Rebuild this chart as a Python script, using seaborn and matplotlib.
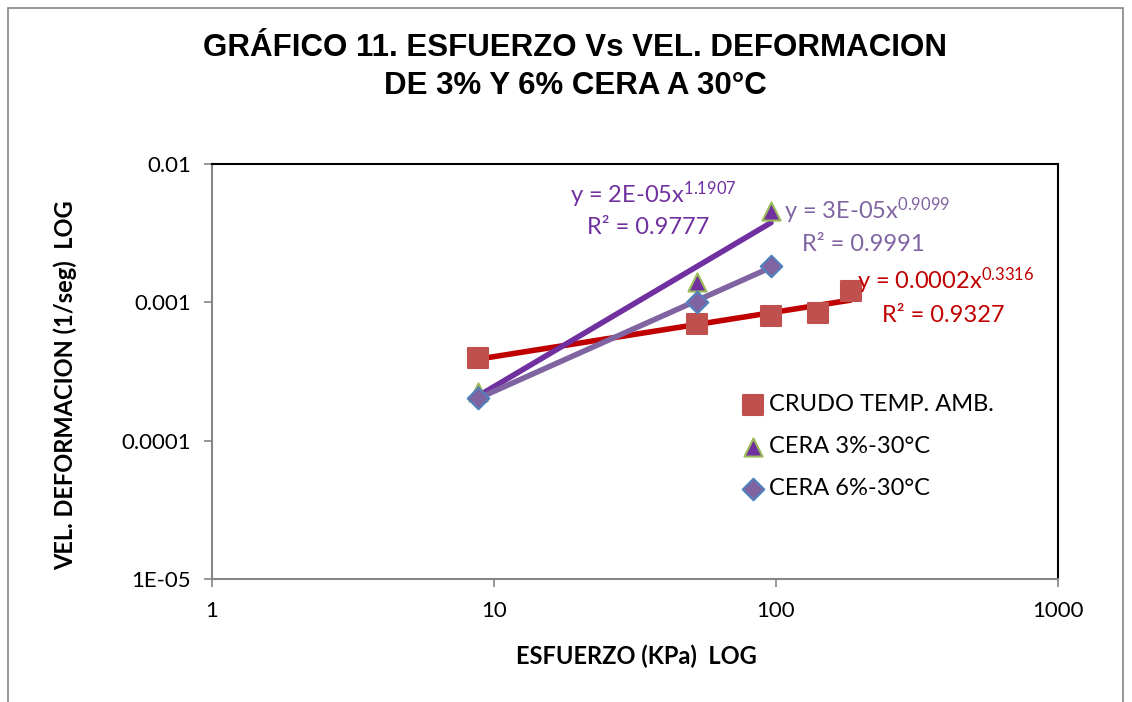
import numpy as np
import pandas as pd
import matplotlib
matplotlib.use("Agg")
import matplotlib.pyplot as plt
import seaborn as sns

# values
crudo_x = [8.8, 52.5, 96, 141, 184]
crudo_y = [0.000396, 0.000698, 0.000798, 0.000837, 0.00121]
cera3_x = [8.8, 52.5, 96]
cera3_y = [0.000225, 0.00140, 0.00458]
cera6_x = [8.8, 52.5, 96]
cera6_y = [0.000204, 0.00100, 0.00183]

series_names = ["CRUDO TEMP. AMB.", "CERA 3%-30°C", "CERA 6%-30°C"]
fit_labels = [("y = 0.0002x$^{0.3316}$", "R² = 0.9327"),
              ("y = 2E-05x$^{1.1907}$", "R² = 0.9777"),
              ("y = 3E-05x$^{0.9099}$", "R² = 0.9991")]
x_ticks = [1, 10, 100, 1000]
y_ticks = [1e-5, 1e-4, 1e-3, 1e-2]
y_tick_labels = ["1E-05", "0.0001", "0.001", "0.01"]

sns.set_style("white")
plt.rcParams["font.family"] = ["Lato", "DejaVu Sans"]
plt.rcParams["mathtext.default"] = "regular"
plt.rcParams["text.color"] = "black"
plt.rcParams["axes.labelcolor"] = "black"
plt.rcParams["xtick.labelcolor"] = "black"
plt.rcParams["ytick.labelcolor"] = "black"

W, H = 1132, 702
fig = plt.figure(figsize=(W / 100, H / 100), dpi=100)
ax = fig.add_axes([212 / W, 1 - 579 / H, (1058 - 212) / W, (579 - 164) / H])

df = pd.concat([
    pd.DataFrame({"x": crudo_x, "y": crudo_y, "serie": series_names[0]}),
    pd.DataFrame({"x": cera3_x, "y": cera3_y, "serie": series_names[1]}),
    pd.DataFrame({"x": cera6_x, "y": cera6_y, "serie": series_names[2]}),
])

marker_fill = ["#C0504D", "#7030A0", "#8064A2"]
marker_edge = ["#C0504D", "#9BBB59", "#4F81BD"]
markers = ["s", "^", "D"]
sizes = [210, 170, 120]
line_colors = ["#C00000", "#7030A0", "#8064A2"]

# power trend lines, drawn first so markers sit on top
for name, col in zip(series_names, line_colors):
    d = df[df["serie"] == name]
    b, a = np.polyfit(np.log(d["x"]), np.log(d["y"]), 1)
    xs = np.linspace(d["x"].min(), d["x"].max(), 50)
    ax.plot(xs, np.exp(a) * xs ** b, color=col, lw=4, zorder=2, solid_capstyle="round")

for i, name in enumerate(series_names):
    d = df[df["serie"] == name]
    sns.scatterplot(data=d, x="x", y="y", ax=ax, marker=markers[i], s=sizes[i],
                    color=marker_fill[i], edgecolor=marker_edge[i], linewidth=1.5,
                    label=name, zorder=3)

ax.set_xscale("log")
ax.set_yscale("log")
ax.set_xlim(1, 1000)
ax.set_ylim(1e-5, 1e-2)
ax.set_xticks(x_ticks)
ax.set_xticklabels([str(t) for t in x_ticks])
ax.set_yticks(y_ticks)
ax.set_yticklabels(y_tick_labels)
ax.minorticks_off()
ax.tick_params(axis="both", direction="out", length=6, width=1.2, color="#868686",
               labelsize=16, labelcolor="black", bottom=True, left=True)
ax.tick_params(axis="x", pad=10)
ax.tick_params(axis="y", pad=9)

for s in ["left", "bottom"]:
    ax.spines[s].set_color("#868686")
    ax.spines[s].set_linewidth(1.5)
for s in ["top", "right"]:
    ax.spines[s].set_color("black")
    ax.spines[s].set_linewidth(1.5)

ax.set_xlabel("ESFUERZO (KPa)  LOG", fontsize=17, fontweight="bold", color="black")
ax.set_ylabel("VEL. DEFORMACION (1/seg)  LOG", fontsize=17, fontweight="bold", color="black")
ax.xaxis.set_label_coords(0.5 + (636 - 635) / 846, (579 - 645) / 415)
ax.yaxis.set_label_coords((77 - 212) / 846, (579 - 385) / 415)

leg = ax.legend(loc="upper left", bbox_to_anchor=((738 - 212) / 846, (579 - 394) / 415),
                frameon=False, fontsize=17, handletextpad=0.0, labelspacing=0.9,
                handlelength=1.3, borderaxespad=0, borderpad=0)
for t in leg.get_texts():
    t.set_color("black")

fig.text(575 / W, 1 - 48 / H, "GRÁFICO 11. ESFUERZO Vs VEL. DEFORMACION", ha="center", va="center",
         fontsize=22.5, fontweight="bold", family="Liberation Sans", color="black")
fig.text(575 / W, 1 - 86 / H, "DE 3% Y 6% CERA A 30°C", ha="center", va="center",
         fontsize=22.5, fontweight="bold", family="Liberation Sans", color="black")

# trend equations
fs = 17
fig.text(857 / W, 1 - 281 / H, fit_labels[0][0], color="#C00000", fontsize=fs, va="center", ha="left")
fig.text(943 / W, 1 - 315 / H, fit_labels[0][1], color="#C00000", fontsize=fs, va="center", ha="center")
fig.text(570 / W, 1 - 195 / H, fit_labels[1][0], color="#7030A0", fontsize=fs, va="center", ha="left")
fig.text(648 / W, 1 - 227 / H, fit_labels[1][1], color="#7030A0", fontsize=fs, va="center", ha="center")
fig.text(784 / W, 1 - 211 / H, fit_labels[2][0], color="#8064A2", fontsize=fs, va="center", ha="left")
fig.text(863 / W, 1 - 245 / H, fit_labels[2][1], color="#8064A2", fontsize=fs, va="center", ha="center")

# outer chart border
fig.patches.append(plt.Rectangle((8 / W, -0.05), (1123 - 8) / W, 1 - 8 / H + 0.05,
                                 transform=fig.transFigure, fill=False,
                                 edgecolor="#868686", lw=1.2))

fig.savefig("out.png", dpi=100)
